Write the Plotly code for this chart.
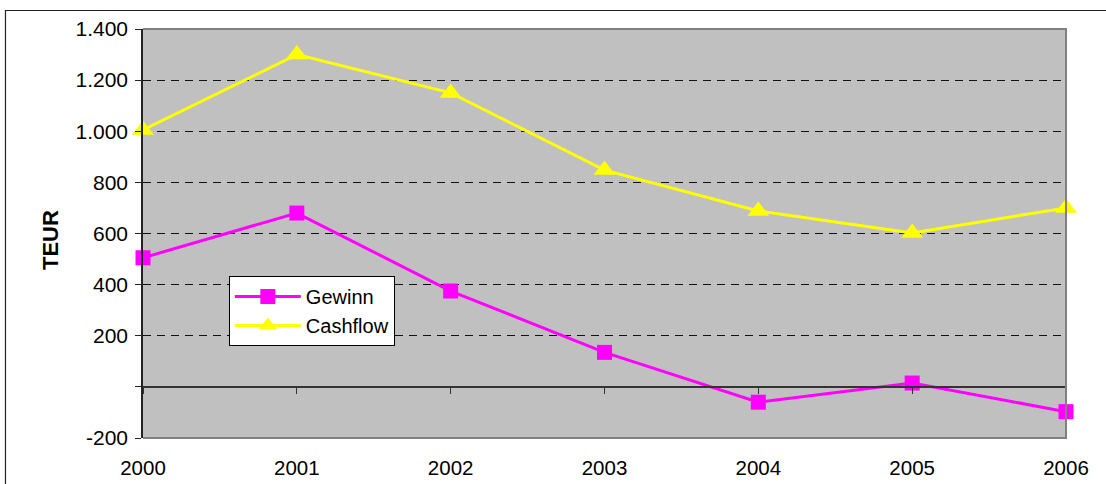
import plotly.graph_objects as go

# Jahreswerte in TEUR
years = [2000, 2001, 2002, 2003, 2004, 2005, 2006]
gewinn = [505, 680, 375, 135, -60, 15, -97]
cashflow = [1005, 1300, 1150, 848, 688, 602, 700]

y_ticks = [-200, 0, 200, 400, 600, 800, 1000, 1200, 1400]
y_labels = ["-200", "", "200", "400", "600", "800", "1.000", "1.200", "1.400"]

FONT = "Liberation Sans, Arial, Helvetica, sans-serif"

fig = go.Figure()

fig.add_trace(go.Scatter(
    x=years, y=gewinn, name="Gewinn", mode="lines+markers",
    line=dict(color="#FF00FF", width=3),
    marker=dict(symbol="square", size=15, color="#FF00FF"),
    cliponaxis=False,
))
fig.add_trace(go.Scatter(
    x=years, y=cashflow, name="Cashflow", mode="lines+markers",
    line=dict(color="#FFFF00", width=3),
    marker=dict(symbol="triangle-up", size=19, color="#FFFF00"),
    cliponaxis=False,
))
# carrier for the category tick marks drawn on the zero line
fig.add_trace(go.Scatter(
    x=years, y=cashflow, xaxis="x2", mode="markers",
    marker=dict(opacity=0), showlegend=False, hoverinfo="skip",
))

fig.update_layout(
    width=1106, height=484,
    margin=dict(l=143, r=40, t=29, b=46),
    paper_bgcolor="white",
    plot_bgcolor="#C0C0C0",
    font=dict(family=FONT, size=20, color="black"),
    showlegend=True,
    legend=dict(
        x=0.093, y=0.396, xanchor="left", yanchor="top",
        bgcolor="white", bordercolor="black", borderwidth=1,
        font=dict(family=FONT, size=20, color="black"),
        itemwidth=66, tracegroupgap=0,
    ),
    xaxis=dict(
        range=[2000, 2006], tickvals=years, ticktext=[str(y) for y in years],
        showgrid=False, zeroline=False, showline=False,
        ticks="outside", ticklen=11, tickcolor="rgba(0,0,0,0)",
        tickfont=dict(size=20.5), automargin=False,
    ),
    xaxis2=dict(
        range=[2000, 2006], tickvals=years, overlaying="x",
        anchor="free", position=0.125, side="bottom",
        showgrid=False, zeroline=False,
        showline=True, linecolor="#333333", linewidth=1.5,
        ticks="outside", ticklen=6, tickcolor="#333333", tickwidth=1,
        showticklabels=False, automargin=False,
    ),
    yaxis=dict(
        range=[-200, 1400], tickvals=y_ticks, ticktext=y_labels,
        showgrid=True, gridcolor="#111111", gridwidth=1, griddash="8px,6px",
        zeroline=False,
        showline=True, linecolor="#222222", linewidth=1.5,
        ticks="outside", ticklen=6, tickcolor="#222222",
        ticklabelstandoff=3,
        tickfont=dict(size=21), automargin=False,
    ),
    annotations=[dict(
        text="<b>TEUR</b>", textangle=-90, xref="paper", yref="paper",
        x=-0.1008, y=0.484, xanchor="center", yanchor="middle",
        showarrow=False, font=dict(family=FONT, size=22, color="black"),
    )],
    shapes=[
        # plot area frame (top, right, bottom)
        dict(type="path", xref="paper", yref="paper",
             path="M 0,1 L 1,1 L 1,0 L 0,0",
             line=dict(color="#808080", width=2), layer="above"),
        # chart area frame
        dict(type="path", xref="paper", yref="paper",
             path="M -0.1490,-0.2 L -0.1490,1.0452 L 1.2,1.0452",
             line=dict(color="#222222", width=1.2), layer="above"),
    ],
)

fig.write_html("out.html")
